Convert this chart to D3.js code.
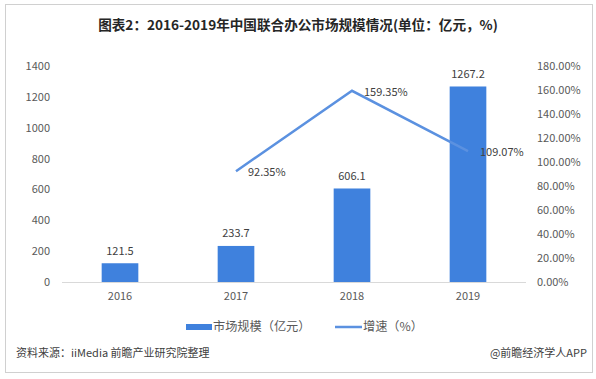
<!DOCTYPE html>
<html><head><meta charset="utf-8">
<script src="https://cdn.jsdelivr.net/npm/d3@7/dist/d3.min.js"></script>
<style>
html,body{margin:0;padding:0;background:#fff;}
svg{display:block;}
text{font-family:"Noto Sans CJK SC","Noto Sans",sans-serif;}
</style></head>
<body>
<svg id="c" width="596" height="379"></svg>
<script>
const years = ["2016","2017","2018","2019"];
const marketSize = [121.5, 233.7, 606.1, 1267.2];
const growthYears = ["2017","2018","2019"];
const growthRate = [92.35, 159.35, 109.07];
const leftTicks = [0,200,400,600,800,1000,1200,1400];
const rightTicks = [0,20,40,60,80,100,120,140,160,180];
const titleText = "图表2：2016-2019年中国联合办公市场规模情况(单位：亿元，%)";
const legendLabels = ["市场规模（亿元）","增速（%）"];
const sourceText = "资料来源：iiMedia 前瞻产业研究院整理";
const creditText = "@前瞻经济学人APP";

const svg = d3.select("#c");
const barColor = "#3f81dd", lineColor = "#5b91e0", textColor = "#595959";

// frame
svg.append("rect").attr("x",5.5).attr("y",4.5).attr("width",587).attr("height",368)
  .attr("fill","#fff").attr("stroke","#d0d0d0").attr("stroke-width",1);

// title
svg.append("text").attr("x",298).attr("y",25).attr("dy","0.35em")
  .attr("text-anchor","middle").attr("font-size",13.6).attr("font-weight","bold")
  .attr("fill","#262626").text(titleText);

const x = d3.scaleBand().domain(years).range([62,526]).paddingInner(0.684).paddingOuter(0.342);
const yL = d3.scaleLinear().domain([0,1400]).range([282,66]);
const yR = d3.scaleLinear().domain([0,180]).range([282,66]);

// left axis
const axL = svg.append("g").attr("transform","translate(50,0)")
  .call(d3.axisLeft(yL).tickValues(leftTicks).tickSize(0).tickPadding(0).tickFormat(d3.format("d")));
axL.select(".domain").remove();
axL.selectAll("text").attr("font-size",11).attr("fill",textColor).attr("font-family","'Noto Sans CJK SC',sans-serif");

// right axis
const axR = svg.append("g").attr("transform","translate(537,0)")
  .call(d3.axisRight(yR).tickValues(rightTicks).tickSize(0).tickPadding(0).tickFormat(d=>d.toFixed(2)+"%"));
axR.select(".domain").remove();
axR.selectAll("text").attr("font-size",11).attr("fill",textColor).attr("font-family","'Noto Sans CJK SC',sans-serif");

// baseline
svg.append("line").attr("x1",62).attr("x2",526).attr("y1",yL(0)+0.5).attr("y2",yL(0)+0.5)
  .attr("stroke","#d9d9d9").attr("stroke-width",1);

// x axis labels
const axX = svg.append("g").attr("transform",`translate(0,${yL(0)})`)
  .call(d3.axisBottom(x).tickSize(0).tickPadding(10));
axX.select(".domain").remove();
axX.selectAll("text").attr("font-size",11).attr("fill",textColor).attr("font-family","'Noto Sans CJK SC',sans-serif");

// bars
const data = years.map((y,i)=>({y,v:marketSize[i]}));
svg.append("g").selectAll("rect").data(data).enter().append("rect")
  .attr("x",d=>x(d.y)).attr("width",x.bandwidth())
  .attr("y",d=>yL(d.v)).attr("height",d=>yL(0)-yL(d.v)).attr("fill",barColor);
svg.append("g").selectAll("text").data(data).enter().append("text")
  .attr("x",d=>x(d.y)+x.bandwidth()/2).attr("y",d=>yL(d.v)-12.5).attr("dy","0.35em")
  .attr("text-anchor","middle").attr("font-size",11).attr("fill","#404040")
  .text(d=>d.v.toFixed(1));

// line
const ld = growthYears.map((y,i)=>({y,v:growthRate[i]}));
const cx = d=>x(d.y)+x.bandwidth()/2;
svg.append("path").datum(ld)
  .attr("d",d3.line().x(cx).y(d=>yR(d.v)))
  .attr("fill","none").attr("stroke",lineColor).attr("stroke-width",2.5);
svg.append("g").selectAll("text").data(ld).enter().append("text")
  .attr("x",d=>cx(d)+12).attr("y",d=>yR(d.v)+1).attr("dy","0.35em")
  .attr("font-size",11).attr("fill","#404040")
  .text(d=>d.v.toFixed(2)+"%");

// legend
const lg = svg.append("g");
lg.append("rect").attr("x",186).attr("y",324).attr("width",26).attr("height",6).attr("fill",barColor);
lg.append("text").attr("x",213).attr("y",327).attr("dy","0.35em").attr("font-size",12.2).attr("fill",textColor).text(legendLabels[0]);
lg.append("line").attr("x1",335).attr("x2",362).attr("y1",327).attr("y2",327).attr("stroke",lineColor).attr("stroke-width",2.5);
lg.append("text").attr("x",363).attr("y",327).attr("dy","0.35em").attr("font-size",12.2).attr("fill",textColor).text(legendLabels[1]);

// footer
svg.append("text").attr("x",16).attr("y",353).attr("dy","0.35em").attr("font-size",11).attr("fill","#404040").text(sourceText);
svg.append("text").attr("x",587).attr("y",353).attr("dy","0.35em").attr("text-anchor","end").attr("font-size",11).attr("fill","#404040").text(creditText);
</script>
</body></html>
